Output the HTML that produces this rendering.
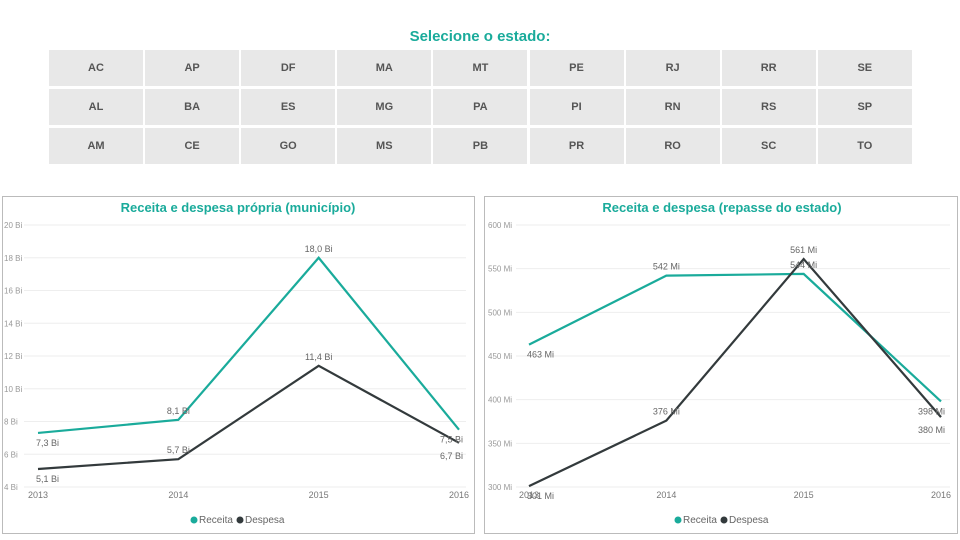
<!DOCTYPE html>
<html><head><meta charset="utf-8"><style>
body{margin:0;width:960px;height:540px;background:#fff;font-family:"Liberation Sans",sans-serif;overflow:hidden;position:relative}
#title{position:absolute;left:0;width:960px;top:28px;text-align:center;color:#1aab9b;font-weight:bold;font-size:15px}
.btn{position:absolute;width:94px;height:36px;background:#e8e8e8;color:#555;font-size:11px;font-weight:bold;display:flex;align-items:center;justify-content:center}
.panel{position:absolute;top:196px;height:338px;border:1px solid #bbb;box-sizing:border-box}
svg{position:absolute;left:0;top:0}
</style></head><body>
<div id="title">Selecione o estado:</div>
<div id="grid"></div>
<div class="panel" style="left:2px;width:473px"></div>
<div class="panel" style="left:484px;width:474px"></div>
<svg id="chart" width="960" height="540"></svg>
<script>
const states=[["AC","AP","DF","MA","MT","PE","RJ","RR","SE"],["AL","BA","ES","MG","PA","PI","RN","RS","SP"],["AM","CE","GO","MS","PB","PR","RO","SC","TO"]];
const rowTops=[50,89,128];
const grid=document.getElementById('grid');
states.forEach((row,r)=>row.forEach((s,c)=>{
 const d=document.createElement('div');d.className='btn';
 d.style.left=(49+c*96.1)+'px';d.style.top=rowTops[r]+'px';d.textContent=s;
 
 
 grid.appendChild(d);
}));

const years=["2013","2014","2015","2016"];
const receitaMun=[7.3,8.1,18.0,7.5];
const despesaMun=[5.1,5.7,11.4,6.7];
const receitaMunLabels=["7,3 Bi","8,1 Bi","18,0 Bi","7,5 Bi"];
const despesaMunLabels=["5,1 Bi","5,7 Bi","11,4 Bi","6,7 Bi"];
const munTicks=[4,6,8,10,12,14,16,18,20];
const receitaEst=[463,542,544,398];
const despesaEst=[301,376,561,380];
const receitaEstLabels=["463 Mi","542 Mi","544 Mi","398 Mi"];
const despesaEstLabels=["301 Mi","376 Mi","561 Mi","380 Mi"];
const estTicks=[300,350,400,450,500,550,600];

const svg=document.getElementById('chart');
const NS='http://www.w3.org/2000/svg';
function el(t,a,txt){const e=document.createElementNS(NS,t);for(const k in a)e.setAttribute(k,a[k]);if(txt!==undefined)e.textContent=txt;svg.appendChild(e);return e;}

function drawChart(cfg){
 const {x0,x1,gx0,gx1,yTop,yBot,min,max,ticks,tickFmt,rec,des,recL,desL,title,cx,prefix}=cfg;
 const X=i=>x0+(x1-x0)*i/(years.length-1);
 const Y=v=>yBot-(yBot-yTop)*(v-min)/(max-min);
 let t=el('text',{x:cx,y:212,'text-anchor':'middle','font-size':13,'font-weight':'bold',fill:'#1aab9b'},title);
 
 
 ticks.forEach(v=>{
  let g=el('line',{x1:gx0,x2:gx1,y1:Y(v),y2:Y(v),stroke:'#eee','stroke-width':1});
  
  
  let l=el('text',{x:cfg.labelX,y:Y(v)+3,'font-size':8,fill:'#999'},tickFmt(v));
  
  
 });
 years.forEach((y,i)=>{
  let l=el('text',{x:X(i),y:yBot+11,'text-anchor':'middle','font-size':9,fill:'#777'},y);
  
  
 });
 [[rec,'#1aab9b',recL,'receita'],[des,'#333a3c',desL,'despesa']].forEach(([vals,col,labs,nm])=>{
  let p=el('polyline',{points:vals.map((v,i)=>X(i)+','+Y(v)).join(' '),fill:'none',stroke:col,'stroke-width':2.2});
  
  
 });
 years.forEach((y,i)=>{
  [[rec[i],recL[i]],[des[i],desL[i]]].forEach(([v,l],k)=>{
   let dy;
   if(i===0) dy=13;
   else if(i===3) dy=(k===0)?(rec[i]>=des[i]?13:-6):16;
   else dy=-6;
   if(i===3 && rec[i]>=des[i] && k===1) dy=Math.max(16, (Y(rec[i])+13+11)-Y(v));
   let anchor=i===0?'start':(i===3?'end':'middle');
   let xx=X(i)+(i===0?-2:(i===3?4:0));
   let tl=el('text',{x:xx,y:Y(v)+dy,'text-anchor':anchor,'font-size':9,fill:'#666'},l);
   
   
  });
 });
 const lx=cx-44;
 let c1=el('circle',{cx:lx,cy:520,r:3.5,fill:'#1aab9b'});
 
 
 let t1=el('text',{x:lx+5,y:523,'font-size':10,fill:'#666'},'Receita');
 
 
 let c2=el('circle',{cx:lx+46,cy:520,r:3.5,fill:'#333a3c'});
 
 
 let t2=el('text',{x:lx+51,y:523,'font-size':10,fill:'#666'},'Despesa');
 
 
}
drawChart({x0:38,x1:459,gx0:24,gx1:466,yTop:225,yBot:487,min:4,max:20,ticks:munTicks,tickFmt:v=>v+' Bi',labelX:4,
 rec:receitaMun,des:despesaMun,recL:receitaMunLabels,desL:despesaMunLabels,title:'Receita e despesa própria (município)',cx:238,prefix:'municipio'});
drawChart({x0:529,x1:941,gx0:516,gx1:950,yTop:225,yBot:487,min:300,max:600,ticks:estTicks,tickFmt:v=>v+' Mi',labelX:488,
 rec:receitaEst,des:despesaEst,recL:receitaEstLabels,desL:despesaEstLabels,title:'Receita e despesa (repasse do estado)',cx:722,prefix:'estado'});
</script>
</body></html>
